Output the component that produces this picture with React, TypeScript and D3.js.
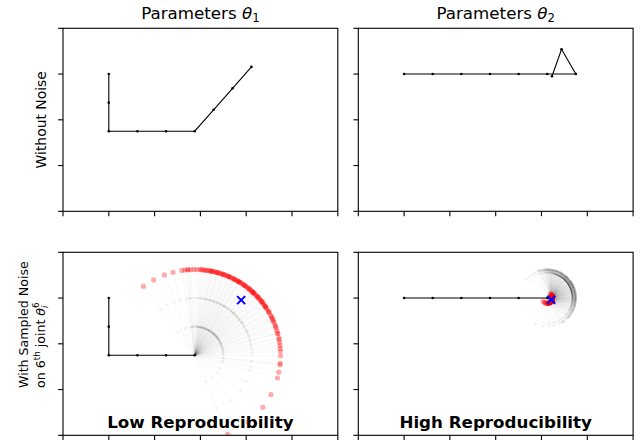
import React from 'react';
import * as d3 from 'd3';

// ---- data ----
const LINK_LENGTH = 0.625;
const BASE: [number, number] = [0, 0];
// relative joint angles (degrees) of the 8-link arm
const THETA1_JOINTS = [-90, 0, 90, 0, 0, 48.6, 0, 0];
const THETA2_JOINTS = [0, 0, 0, 0, 0, 0, 120, -229.5];
const NOISY_JOINT = 5; // 6th joint
// sampled noise on the 6th joint (degrees)
const NOISE_OFFSETS = [
  -10, 27, -38, 4, 17, -2, 46, -22, 11, -55, 32, 2, -15, 23, -6, 62, -32, 9, -25, 38,
  -2, 14, -44, 20, -11, 6, 30, -18, 50, -29, 0, 13, -7, 35, -64, 24, -14, 7, 42, -23,
  2, -37, 18, -5, 28, -46, 10, 78, -19, 5, -30, 22, -9, 37, -1, -54, 15, 48, -26, 8,
  -16, 33, -42, 3, 19, -12, 26, -86, 12, -4, 44, -34, 22, -21, 6, 56, -10, 30, -49, 16,
  -6, 1, 40, -28, 10, -76, 25, -14, 34, -3, -40, 21, 70, -24, 14, -8, 31, -60, 18, -18,
  46, -34, 29, -13, -100, 36, -1, 11, -116, 26,
];
const X_DOMAIN = [-1, 5];
const Y_DOMAIN = [-3, 1];
const X_TICKS = [-1, 0, 1, 2, 3, 4, 5];
const Y_TICKS = [-3, -2, -1, 0, 1];
const COLUMN_SUBSCRIPTS = ['1', '2'];
const PANEL_CAPTIONS = ['Low Reproducibility', 'High Reproducibility'];

// ---- layout ----
const W = 644, H = 440;
const COL_X = [63, 358.3];
const ROW_Y = [28.3, 252.3];
const PW = 274.8, PH = 183;
const FONT = 'DejaVu Sans, sans-serif';

type Pt = [number, number];

function chain(joints: number[]): Pt[] {
  let a = 0;
  let p: Pt = [BASE[0], BASE[1]];
  const pts: Pt[] = [p];
  joints.forEach((j) => {
    a += (j * Math.PI) / 180;
    p = [p[0] + LINK_LENGTH * Math.cos(a), p[1] + LINK_LENGTH * Math.sin(a)];
    pts.push(p);
  });
  return pts;
}

function Panel({ col, row, joints, noisy, caption }: { col: number; row: number; joints: number[]; noisy: boolean; caption?: string }) {
  const x0 = COL_X[col], y0 = ROW_Y[row];
  const x = d3.scaleLinear().domain(X_DOMAIN).range([x0, x0 + PW]);
  const y = d3.scaleLinear().domain(Y_DOMAIN).range([y0 + PH, y0]);
  const line = d3.line<Pt>().x((d) => x(d[0])).y((d) => y(d[1]));
  const clipId = `clip-${col}-${row}`;
  const pts = chain(joints);
  const basePts = noisy ? pts.slice(0, NOISY_JOINT + 1) : pts;
  const samples = noisy
    ? NOISE_OFFSETS.map((o) => {
        const js = joints.slice();
        js[NOISY_JOINT] += o;
        return chain(js);
      })
    : [];
  const ends = samples.map((s) => s[s.length - 1]);
  const mean: Pt | null = noisy ? [d3.mean(ends, (d) => d[0]) as number, d3.mean(ends, (d) => d[1]) as number] : null;
  return (
    <g>
      <defs>
        <clipPath id={clipId}>
          <rect x={x0} y={y0} width={PW} height={PH} />
        </clipPath>
      </defs>
      <g clipPath={`url(#${clipId})`}>
        {samples.map((s, i) => (
          <path key={'l' + i} d={line(s.slice(NOISY_JOINT)) as string} fill="none" stroke="#000" strokeOpacity={0.03} strokeWidth={1} />
        ))}
        {samples.map((s, i) =>
          s.slice(NOISY_JOINT + 1, s.length - 1).map((p, k) => (
            <circle key={'j' + i + '-' + k} cx={x(p[0])} cy={y(p[1])} r={1.2} fill="#000" fillOpacity={0.05} />
          ))
        )}
        {ends.map((p, i) => (
          <circle key={'e' + i} cx={x(p[0])} cy={y(p[1])} r={2.6} fill="#ff0000" fillOpacity={0.33} />
        ))}
        <path d={line(basePts) as string} fill="none" stroke="#000" strokeWidth={1.1} />
        {basePts.map((p, i) => (
          <circle key={'b' + i} cx={x(p[0])} cy={y(p[1])} r={1.3} fill="#000" />
        ))}
        {mean && (
          <g stroke="#0000ff" strokeWidth={2}>
            <line x1={x(mean[0]) - 4} y1={y(mean[1]) - 4} x2={x(mean[0]) + 4} y2={y(mean[1]) + 4} />
            <line x1={x(mean[0]) - 4} y1={y(mean[1]) + 4} x2={x(mean[0]) + 4} y2={y(mean[1]) - 4} />
          </g>
        )}
      </g>
      <rect x={x0} y={y0} width={PW} height={PH} fill="none" stroke="#000" strokeWidth={1.1} />
      {X_TICKS.map((t) => (
        <line key={'xt' + t} x1={x(t)} x2={x(t)} y1={y0 + PH} y2={y0 + PH + 4.9} stroke="#000" strokeWidth={1.1} />
      ))}
      {Y_TICKS.map((t) => (
        <line key={'yt' + t} x1={x0 - 4.9} x2={x0} y1={y(t)} y2={y(t)} stroke="#000" strokeWidth={1.1} />
      ))}
      {caption && (
        <text x={x0 + PW / 2} y={428.3} textAnchor="middle" fontFamily={FONT} fontWeight="bold" fontSize={16.7} fill="#000">
          {caption}
        </text>
      )}
    </g>
  );
}

export default function App() {
  return (
    <svg width={W} height={H} style={{ position: 'fixed', left: 0, top: 0, background: '#fff' }}>
      <rect width={W} height={H} fill="#fff" />
      {COLUMN_SUBSCRIPTS.map((s, c) => (
        <text key={'t' + c} x={COL_X[c] + PW / 2} y={18.5} textAnchor="middle" fontFamily={FONT} fontSize={16.7} fill="#000">
          Parameters <tspan fontStyle="italic">θ</tspan>
          <tspan fontSize={11.7} dy={3}>{s}</tspan>
        </text>
      ))}
      <text transform={`translate(46,${ROW_Y[0] + PH / 2}) rotate(-90)`} textAnchor="middle" fontFamily={FONT} fontSize={13.9} fill="#000">
        Without Noise
      </text>
      <g transform={`translate(0,388) rotate(-90)`} fontFamily={FONT} fontSize={12.6} fill="#000">
        <text x={0} y={28} textAnchor="start">With Sampled Noise</text>
        <text x={0} y={45} textAnchor="start">
          on 6<tspan fontSize={8.8} dy={-5}>th</tspan>
          <tspan dy={5}> joint </tspan>
          <tspan fontStyle="italic">θ</tspan>
          <tspan fontSize={8.8} fontStyle="italic" dy={3}>i</tspan>
          <tspan fontSize={8.8} dx={-2.5} dy={-9}>6</tspan>
        </text>
      </g>
      <Panel col={0} row={0} joints={THETA1_JOINTS} noisy={false} />
      <Panel col={1} row={0} joints={THETA2_JOINTS} noisy={false} />
      <Panel col={0} row={1} joints={THETA1_JOINTS} noisy={true} caption={PANEL_CAPTIONS[0]} />
      <Panel col={1} row={1} joints={THETA2_JOINTS} noisy={true} caption={PANEL_CAPTIONS[1]} />
    </svg>
  );
}
